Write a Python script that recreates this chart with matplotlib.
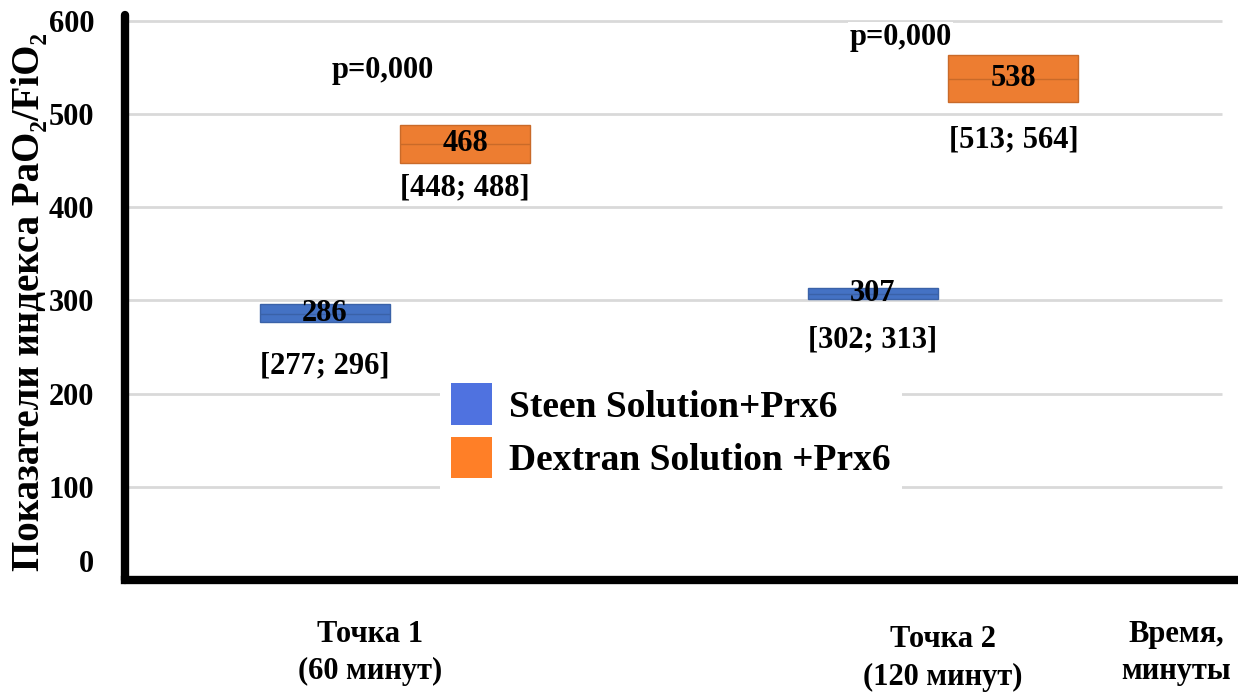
import matplotlib
matplotlib.use("Agg")
import matplotlib.pyplot as plt
import matplotlib.transforms as mtransforms
from matplotlib.patches import Patch

# ---- data -------------------------------------------------------------
categories = ["Точка 1\n(60 минут)", "Точка 2\n(120 минут)"]
series = ["Steen Solution+Prx6", "Dextran Solution +Prx6"]

steen_median = [286, 307]
steen_q1 = [277, 302]
steen_q3 = [296, 313]

dextran_median = [468, 538]
dextran_q1 = [448, 513]
dextran_q3 = [488, 564]

p_labels = ["p=0,000", "p=0,000"]
y_ticks = [0, 100, 200, 300, 400, 500, 600]
y_label = "Показатели индекса PaO₂/FiO₂"
x_axis_note = "Время,\nминуты"

# ---- style ------------------------------------------------------------
plt.rcParams["font.family"] = ["Liberation Serif", "DejaVu Serif"]
plt.rcParams["font.weight"] = "bold"

box_colors = ["#4472C4", "#ED7D31"]
box_edges = ["#3A62A8", "#C96A29"]
legend_colors = ["#4F72E0", "#FF7F27"]
grid_color = "#D9D9D9"

fig = plt.figure(figsize=(12.38, 6.92), dpi=100)
ax = fig.add_axes([125 / 1238, 112 / 692, 1113 / 1238, 565 / 692])

x_left, x_right = -0.493, 1.538
ax.set_xlim(x_left, x_right)
ax.set_ylim(0, 606.4)

# gridlines
ax.hlines(y_ticks[1:], x_left, 1.509, colors=grid_color, linewidth=2, zorder=0)

box_width = 0.237
offset = 0.128
positions = list(range(len(categories)))

groups = [
    (steen_q1, steen_q3, steen_median, -offset, 0),
    (dextran_q1, dextran_q3, dextran_median, offset, 1),
]
# label offsets below each box (points), per group and category
interval_offsets = [[-32, -30], [-18, -27]]

for q1s, q3s, meds, dx, gi in groups:
    xs = [p + dx for p in positions]
    heights = [q3 - q1 for q1, q3 in zip(q1s, q3s)]
    ax.bar(xs, heights, bottom=q1s, width=box_width, color=box_colors[gi],
           edgecolor=box_edges[gi], linewidth=1, zorder=2)
    for i, (x, q1, q3, m) in enumerate(zip(xs, q1s, q3s, meds)):
        ax.hlines(m, x - box_width / 2, x + box_width / 2,
                  colors=box_edges[gi], linewidth=1, zorder=3)
        ax.text(x, m, f"{m}", ha="center", va="center", fontsize=22,
                fontweight="bold", zorder=4)
        ax.annotate(f"[{q1}; {q3}]", xy=(x, q1), xytext=(0, interval_offsets[gi][i]),
                    textcoords="offset points", ha="center", va="center",
                    fontsize=22, fontweight="bold", zorder=4)

# significance labels, placed relative to each category
p_dx = [-0.022, -0.078]
p_y = [547, 582]
for p, dx, py, lab in zip(positions, p_dx, p_y, p_labels):
    ax.text(p + dx, py, lab, ha="center", va="center", fontsize=22, fontweight="bold",
            zorder=4, bbox=dict(facecolor="white", edgecolor="none", pad=1))

# axes styling
for s in ["top", "right"]:
    ax.spines[s].set_visible(False)
ax.spines["left"].set_linewidth(6)
ax.spines["bottom"].set_linewidth(6)
ax.spines["left"].set_capstyle("round")
ax.set_yticks(y_ticks)
ax.set_yticklabels([str(t) for t in y_ticks], fontsize=22, fontweight="bold")
ax.tick_params(axis="y", length=0, pad=22)
ax.tick_params(axis="x", length=0)
zero_lbl = ax.get_yticklabels()[0]
zero_lbl.set_transform(zero_lbl.get_transform() +
                       mtransforms.ScaledTranslation(0, 14 / 72, fig.dpi_scale_trans))

# category labels
blend = mtransforms.blended_transform_factory(ax.transData, ax.transAxes)
cat_dx = [-0.045, 0.0]
cat_y = [-0.07, -0.08]
for p, dx, cy, lab in zip(positions, cat_dx, cat_y, categories):
    ax.text(p + dx, cy, lab, transform=blend,
            ha="center", va="top", fontsize=22, fontweight="bold", linespacing=1.4)
ax.set_xticks([])
ax.text(1.425, -0.07, x_axis_note, transform=blend,
        ha="center", va="top", fontsize=22, fontweight="bold", linespacing=1.4)

fig.text(30 / 1238, 1 - 302 / 692, y_label, rotation=90, ha="center", va="center",
         fontsize=28, fontweight="bold")

# legend
handles = [Patch(facecolor=c, edgecolor="none") for c in legend_colors]
leg = ax.legend(handles, series, loc="upper left",
                bbox_to_anchor=(421 / 1238, 1 - 356 / 692), bbox_transform=fig.transFigure,
                prop={"family": ["Liberation Serif"], "weight": "bold", "size": 27},
                handlelength=1.1, handleheight=1.1, handletextpad=0.45,
                labelspacing=0.4, borderpad=0.3, frameon=True, fancybox=False)
leg.get_frame().set_facecolor("white")
leg.get_frame().set_edgecolor("none")
leg.get_frame().set_alpha(1)
# square handles slightly taller to fill each legend row
for h in leg.legend_handles:
    h.set_height(h.get_height() * 1.15)
    h.set_y(h.get_y() - h.get_height() * 0.065)

fig.savefig("out.png", dpi=100)
